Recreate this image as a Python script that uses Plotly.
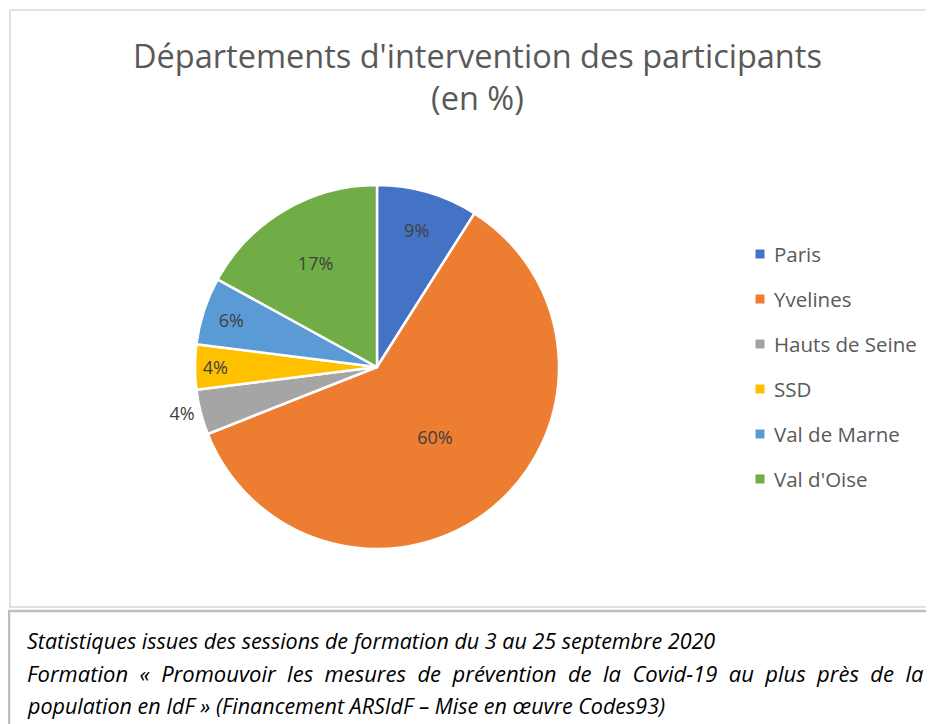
import plotly.graph_objects as go

categories = ["Paris", "Yvelines", "Hauts de Seine", "SSD", "Val de Marne", "Val d'Oise"]
values = [9, 60, 4, 4, 6, 17]
colors = ["#4472C4", "#ED7D31", "#A5A5A5", "#FFC000", "#5B9BD5", "#70AD47"]
text_positions = ["inside", "inside", "outside", "inside", "inside", "inside"]

title_text = "Départements d'intervention des participants<br>(en %)"
caption_lines = [
    "Statistiques issues des sessions de formation du 3 au 25 septembre 2020",
    "Formation « Promouvoir les mesures de prévention de la Covid-19 au plus près de la",
    "population en IdF » (Financement ARSIdF – Mise en œuvre Codes93)",
]
justified = [False, True, False]

OFF = 8  # page body margin
W, H = 934 - OFF, 724 - OFF


def px(x):
    return (x - OFF) / W


def py(y):
    return 1 - (y - OFF) / H


cx, cy, r = 377, 367, 182

fig = go.Figure()
fig.add_trace(go.Pie(
    labels=categories,
    values=values,
    sort=False,
    direction="clockwise",
    rotation=0,
    marker=dict(colors=colors, line=dict(color="white", width=2.5)),
    texttemplate="%{value}%",
    textposition=text_positions,
    insidetextorientation="horizontal",
    textfont=dict(family="Open Sans", size=18, color="#404040"),
    showlegend=False,
    domain=dict(x=[px(cx - r), px(cx + r)], y=[py(cy + r), py(cy - r)]),
    hoverinfo="label+percent",
))

shapes = [
    dict(type="rect", xref="paper", yref="paper", x0=px(10), x1=1.05, y0=py(607), y1=py(10),
         line=dict(color="#D9D9D9", width=1.5), fillcolor="rgba(0,0,0,0)", layer="below"),
    dict(type="rect", xref="paper", yref="paper", x0=px(9), x1=1.05, y0=-0.05, y1=py(611),
         line=dict(color="#BFBFBF", width=2.5), fillcolor="rgba(0,0,0,0)", layer="below"),
]
annotations = []

# title
annotations.append(dict(x=px(477.5), y=py(77), xref="paper", yref="paper", text=title_text,
                        showarrow=False, xanchor="center", yanchor="middle", align="center",
                        font=dict(family="Open Sans", size=32.5, color="#595959")))

# custom legend
leg_x, leg_y0, leg_dy = 760, 254, 45
for i, (lab, col) in enumerate(zip(categories, colors)):
    y = leg_y0 + i * leg_dy
    shapes.append(dict(type="rect", xref="paper", yref="paper",
                       x0=px(leg_x - 4.5), x1=px(leg_x + 4.5),
                       y0=py(y + 4.5), y1=py(y - 4.5),
                       fillcolor=col, line=dict(width=0)))
    annotations.append(dict(x=px(leg_x + 12), y=py(y), xref="paper", yref="paper",
                            text=lab, showarrow=False, xanchor="left", yanchor="middle",
                            font=dict(family="Open Sans", size=20.5, color="#595959")))

cap_y0, cap_dy = 640, 32.5
for i, (line, just) in enumerate(zip(caption_lines, justified)):
    txt = (" \u00a0").join(line.split(" ")) if just else line
    annotations.append(dict(x=px(25), y=py(cap_y0 + i * cap_dy), xref="paper", yref="paper",
                            text="<i>" + txt + "</i>", showarrow=False, xanchor="left", yanchor="middle",
                            font=dict(family="Open Sans", size=22 if just else 21.5, color="#000000")))

fig.update_layout(
    width=W, height=H,
    margin=dict(l=0, r=0, t=0, b=0),
    paper_bgcolor="white",
    plot_bgcolor="white",
    shapes=shapes,
    annotations=annotations,
)

fig.write_html("out.html")
